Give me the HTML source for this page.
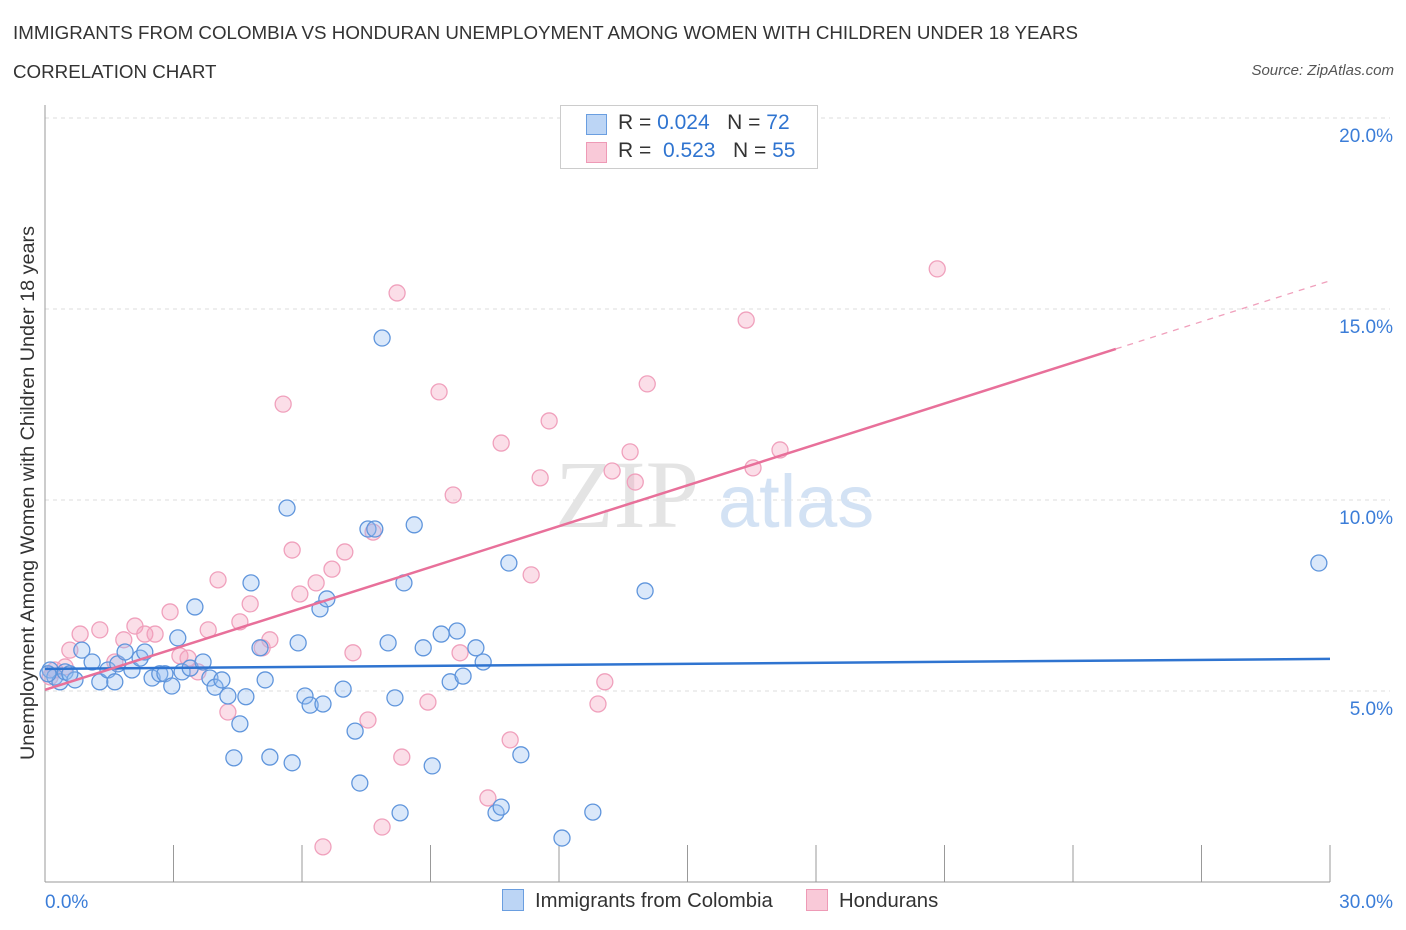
<!DOCTYPE html>
<html><head><meta charset="utf-8"><style>
body{margin:0;background:#fff;font-family:"Liberation Sans",sans-serif;}
#wrap{position:relative;width:1406px;height:930px;overflow:hidden;}
.t{position:absolute;white-space:nowrap;}
</style></head><body>
<div id="wrap">
<div class="t" style="left:13px;top:22px;font-size:18.75px;color:#333;">IMMIGRANTS FROM COLOMBIA VS HONDURAN UNEMPLOYMENT AMONG WOMEN WITH CHILDREN UNDER 18 YEARS</div>
<div class="t" style="left:13px;top:61px;font-size:18.75px;color:#333;">CORRELATION CHART</div>
<div class="t" style="right:12px;top:62px;font-size:15px;color:#555;font-style:italic;">Source: ZipAtlas.com</div>
<svg id="chart" width="1406" height="930" style="position:absolute;left:0;top:0"></svg>
</div>
<script>
const xTicksPct=[0,30];
const yTicks=[5,10,15,20];
const blueX=[0.12,0.23,0.35,0.07,0.47,0.70,0.86,1.10,1.28,1.47,1.70,1.87,2.03,2.22,2.33,2.50,2.68,2.80,2.96,3.10,3.20,3.39,3.50,3.69,3.85,3.97,4.13,4.27,4.41,4.55,4.69,4.81,5.02,5.14,5.25,5.65,5.77,5.91,6.07,6.19,6.42,6.49,6.58,6.96,7.24,7.35,7.54,7.70,7.87,8.01,8.17,8.29,8.38,8.62,8.83,9.04,9.25,9.46,9.62,9.76,10.06,10.23,10.53,10.65,10.83,11.11,12.07,12.79,14.01,29.74,0.58,1.63];
const blueY=[5.55,5.37,5.24,5.45,5.50,5.29,6.07,5.76,5.24,5.55,5.71,6.02,5.55,5.86,6.02,5.34,5.45,5.45,5.13,6.39,5.50,5.60,7.20,5.76,5.34,5.10,5.29,4.87,3.25,4.14,4.85,7.83,6.13,5.29,3.27,9.79,3.12,6.26,4.87,4.63,7.15,4.66,7.41,5.05,3.95,2.59,9.24,9.24,14.24,6.26,4.82,1.81,7.83,9.35,6.13,3.04,6.49,5.24,6.57,5.39,6.13,5.76,1.81,1.96,8.35,3.33,1.15,1.83,7.62,8.35,5.45,5.24];
const pinkX=[0.12,0.23,0.47,0.58,0.82,1.28,1.63,1.84,2.10,2.33,2.57,2.92,3.15,3.34,3.57,3.81,4.04,4.27,4.55,4.79,5.07,5.25,5.56,5.77,5.95,6.33,6.49,6.70,7.00,7.19,7.54,7.66,7.87,8.22,8.33,8.94,9.20,9.53,9.69,10.34,10.65,10.86,11.35,11.56,11.77,12.91,13.07,13.24,13.66,13.78,14.06,16.37,16.53,17.16,20.83];
const pinkY=[5.37,5.55,5.63,6.07,6.49,6.60,5.76,6.34,6.70,6.49,6.49,7.07,5.92,5.86,5.50,6.60,7.91,4.45,6.81,7.28,6.13,6.34,12.51,8.69,7.54,7.83,0.92,8.19,8.64,6.00,4.24,9.16,1.44,15.42,3.27,4.71,12.83,10.13,6.00,2.20,11.49,3.72,8.04,10.58,12.07,4.66,5.24,10.76,11.26,10.47,13.04,14.71,10.84,11.31,16.05];
const NS="http://www.w3.org/2000/svg";
const svg=document.getElementById('chart');
const X0=45,X1=1330,Y0=882,PPY=38.2;
const sx=v=>X0+(X1-X0)*v/30, sy=v=>Y0-v*PPY;
function mk(t,a){const e=document.createElementNS(NS,t);for(const k in a)e.setAttribute(k,a[k]);svg.appendChild(e);return e;}
yTicks.forEach(v=>{
 const l=mk('line',{x1:X0,x2:1390,y1:sy(v),y2:sy(v),stroke:'#ddd','stroke-dasharray':'4,4'});
 
 
 const t=mk('text',{x:1393,y:sy(v)+24,'text-anchor':'end','font-size':19,fill:'#3b7dd8','font-family':'Liberation Sans, sans-serif'});
 t.textContent=v.toFixed(1)+'%';
 
 
});
const ax=mk('line',{x1:X0,x2:X0,y1:105,y2:Y0,stroke:'#999'});


const bx=mk('line',{x1:X0,x2:X1,y1:Y0,y2:Y0,stroke:'#999'});


for(let i=1;i<=10;i++){const tk=mk('line',{x1:sx(i*3),x2:sx(i*3),y1:845,y2:Y0,stroke:'#999'});
 
 }
xTicksPct.forEach(v=>{const t=mk('text',{x:v==0?45:1393,y:908,'text-anchor':v==0?'start':'end','font-size':19,fill:'#3b7dd8','font-family':'Liberation Sans, sans-serif'});
 t.textContent=v.toFixed(1)+'%';
 
 });
const wm=mk('text',{x:555,y:527,'font-size':96,fill:'#e4e4e4','font-family':'Liberation Serif, serif'});wm.textContent='ZIP';


const wm2=mk('text',{x:718,y:527,'font-size':74,fill:'#d3e2f4','font-family':'Liberation Sans, sans-serif'});wm2.textContent='atlas';


const yl=mk('text',{x:0,y:0,transform:'translate(34,493) rotate(-90)','text-anchor':'middle','font-size':19.8,fill:'#333','font-family':'Liberation Sans, sans-serif'});
yl.textContent='Unemployment Among Women with Children Under 18 years';


pinkX.forEach((x,i)=>{const c=mk('circle',{cx:sx(x),cy:sy(pinkY[i]),r:8,fill:'rgba(244,160,190,0.35)',stroke:'#f0a0bc','stroke-width':1.3});
 
 });
blueX.forEach((x,i)=>{const c=mk('circle',{cx:sx(x),cy:sy(blueY[i]),r:8,fill:'rgba(150,190,240,0.35)',stroke:'#5f95dc','stroke-width':1.3});
 
 });
const bInt=5.58,bSl=0.0087,pInt=5.03,pSl=0.357;
const bl=mk('line',{x1:sx(0),y1:sy(bInt),x2:sx(30),y2:sy(bInt+bSl*30),stroke:'#2f74d0','stroke-width':2.5});


const pl=mk('line',{x1:sx(0),y1:sy(pInt),x2:sx(25),y2:sy(pInt+pSl*25),stroke:'#e8709a','stroke-width':2.5});


const pd=mk('line',{x1:sx(25),y1:sy(pInt+pSl*25),x2:sx(30),y2:sy(pInt+pSl*30),stroke:'#f0a0bc','stroke-width':1.3,'stroke-dasharray':'6,6'});


</script>
<div class="t" style="left:560px;top:105px;width:256px;height:62px;border:1px solid #ccc;background:#fff;font-size:21px;">
 <div style="position:absolute;left:25px;top:8px;width:19px;height:19px;background:#bcd5f5;border:1px solid #6a9ee0;"></div>
 <div style="position:absolute;left:57px;top:5px;color:#333;">R = <span style="color:#2f74d0">0.024</span>&nbsp;&nbsp;&nbsp;N = <span style="color:#2f74d0">72</span></div>
 <div style="position:absolute;left:25px;top:36px;width:19px;height:19px;background:#f9c9d8;border:1px solid #ee9ab6;"></div>
 <div style="position:absolute;left:57px;top:33px;color:#333;">R = &nbsp;<span style="color:#2f74d0">0.523</span>&nbsp;&nbsp;&nbsp;N = <span style="color:#2f74d0">55</span></div>
</div>
<div class="t" style="left:502px;top:889px;font-size:20.3px;color:#333;"><span style="display:inline-block;width:20px;height:20px;background:#bcd5f5;border:1px solid #6a9ee0;vertical-align:-4px;margin-right:11px;"></span>Immigrants from Colombia</div>
<div class="t" style="left:806px;top:889px;font-size:20.3px;color:#333;"><span style="display:inline-block;width:20px;height:20px;background:#f9c9d8;border:1px solid #ee9ab6;vertical-align:-4px;margin-right:11px;"></span>Hondurans</div>
</body></html>
